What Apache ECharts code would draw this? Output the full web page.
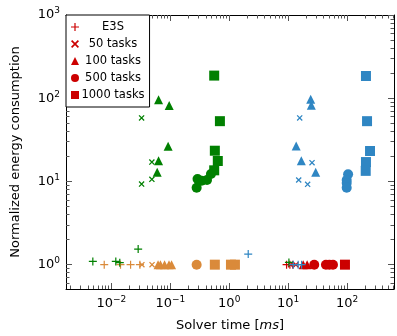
<!DOCTYPE html>
<html>
<head>
<meta charset="utf-8">
<script src="https://cdn.jsdelivr.net/npm/echarts@6/dist/echarts.min.js"></script>
<style>html,body{margin:0;padding:0;background:#fff;}#c{width:397px;height:336px;}</style>
</head>
<body>
<div id="c"></div>
<script>
// ---- data (x = solver time [ms], y = normalized energy consumption) ----
const legendNames = ['E3S', '50 tasks', '100 tasks', '500 tasks', '1000 tasks'];
const xTickValues = [0.01, 0.1, 1, 10, 100];
const yTickValues = [1, 10, 100, 1000];

// red (E3S)
const redPlus   = [[9.4, 1], [10.7, 1], [12, 1]];
const redCross  = [[11, 1], [13.5, 1]];
const redTri    = [[18, 1], [21, 1]];
const redCircle = [[27.7, 1], [43.8, 1], [50, 1], [57.6, 1]];
const redSquare = [[92, 1]];

// orange
const orangePlus   = [[0.00757, 1], [0.0143, 1], [0.0212, 1], [0.0305, 1]];
const orangeCross  = [[0.033, 1], [0.049, 1]];
const orangeTri    = [[0.062, 1], [0.068, 1], [0.08, 1], [0.095, 1], [0.105, 1]];
const orangeCircle = [[0.28, 1]];
const orangeSquare = [[0.57, 1], [1.07, 1], [1.25, 1]];

// green
const greenPlus   = [[0.00485, 1.095], [0.0119, 1.095], [0.0139, 1.056], [0.0285, 1.54], [10.3, 1.065]];
const greenCross  = [[0.0326, 58], [0.0487, 17.1], [0.0487, 10.6], [0.0326, 9.3]];
const greenTri    = [[0.0633, 96], [0.0958, 82], [0.092, 26.4], [0.0633, 17.7], [0.06, 12.9]];
const greenCircle = [[0.29, 10.7], [0.34, 10.2], [0.42, 10.4], [0.49, 12.3], [0.28, 8.4]];
const greenSquare = [[0.556, 187], [0.695, 53], [0.57, 23.4], [0.64, 17.6], [0.556, 13.6]];

// blue
const bluePlus   = [[2.1, 1.34], [12.2, 1], [14.8, 1], [16.9, 1]];
const blueCross  = [[15.7, 58], [25.4, 16.8], [15.1, 10.4], [21.4, 9.24]];
const blueTri    = [[24.1, 97], [24.7, 82.4], [13.7, 26.6], [16.7, 17.7], [29.3, 12.9]];
const blueCircle = [[104, 12.2], [98.5, 10.4], [98.5, 9.6], [98.5, 8.4]];
const blueSquare = [[209, 185], [218, 53], [245, 23.2], [209, 17.1], [207, 13.4]];

// ---- styling ----
const FONT = 'DejaVu Sans';
const C = { red: '#cc0000', orange: '#da8a3a', green: '#008000', blue: '#2f86c3' };
const PLUS = 'path://M4.25,0H5.75V4.25H10V5.75H5.75V10H4.25V5.75H0V4.25H4.25Z';
const CROSS = 'path://M0,1.5L1.5,0L10,8.5L8.5,10Z M8.5,0L10,1.5L1.5,10L0,8.5Z';
const shapes = [
  { sym: PLUS, size: 8 }, { sym: CROSS, size: 6 }, { sym: 'triangle', size: 9 },
  { sym: 'circle', size: 10 }, { sym: 'rect', size: 10 }
];
const groups = [
  { key: 'red', color: C.red, data: [redPlus, redCross, redTri, redCircle, redSquare], legend: true },
  { key: 'orange', color: C.orange, data: [orangePlus, orangeCross, orangeTri, orangeCircle, orangeSquare] },
  { key: 'green', color: C.green, data: [greenPlus, greenCross, greenTri, greenCircle, greenSquare] },
  { key: 'blue', color: C.blue, data: [bluePlus, blueCross, blueTri, blueCircle, blueSquare] }
];
const series = [];
groups.forEach(g => {
  g.data.forEach((d, i) => {
    series.push({
      type: 'scatter', name: g.legend ? legendNames[i] : g.key + ' ' + legendNames[i],
      xAxisIndex: 0, yAxisIndex: 0, symbol: shapes[i].sym, symbolSize: shapes[i].size,
      itemStyle: { color: g.color, opacity: 1 }, data: d, animation: false
    });
  });
});

function minorVals(lo, hi) {
  const out = [];
  for (let e = -4; e <= 3; e++) for (let k = 2; k <= 9; k++) {
    const v = k * Math.pow(10, e);
    if (v > lo && v < hi) out.push(+v.toPrecision(3));
  }
  return out;
}
const XMIN = 0.0017, XMAX = 625, YMIN = 0.51, YMAX = 1000;
const xMinor = minorVals(XMIN, XMAX);
const yMinor = minorVals(YMIN, YMAX);

function powLabel(v) {
  const k = Math.round(Math.log10(v));
  return '{b|10}{s|' + (k < 0 ? '\u2212' + (-k) : k) + '}';
}
const labelRich = {
  b: { fontFamily: FONT, fontSize: 13, color: '#000' },
  s: { fontFamily: FONT, fontSize: 9, color: '#000', padding: [0, 0, 8, 0] }
};
const TICKC = '#555555';

function mkAxis(kind, pos, major, opts) {
  const isX = kind === 'x';
  return Object.assign({
    type: 'log', min: isX ? XMIN : YMIN, max: isX ? XMAX : YMAX, position: pos,
    splitLine: { show: false },
    axisLine: { show: major, lineStyle: { color: '#000', width: 1 } },
    axisTick: {
      show: true, inside: true, length: major ? 6 : 3.5,
      lineStyle: { color: TICKC, width: 1 },
      customValues: major ? (isX ? xTickValues : yTickValues) : (isX ? xMinor : yMinor)
    },
    axisLabel: { show: false }
  }, opts || {});
}

const option = {
  backgroundColor: '#fff', animation: false,
  grid: { left: 66, right: 3, top: 15, bottom: 47, outerBoundsMode: 'none' },
  legend: {
    data: legendNames, orient: 'vertical', left: 66, top: 15,
    backgroundColor: '#fff', borderColor: '#000', borderWidth: 1,
    padding: [6, 5, 6, 5], itemGap: 5, itemWidth: 8, itemHeight: 8, selectedMode: false,
    formatter: n => '{c|' + n + '}',
    textStyle: { fontFamily: FONT, fontSize: 11, color: '#000',
      rich: { c: { fontFamily: FONT, fontSize: 11.5, width: 58, align: 'center', lineHeight: 12 } } }
  },
  xAxis: [
    mkAxis('x', 'bottom', true, {
      name: 'Solver time [{i|ms}]', nameLocation: 'middle', nameGap: 30,
      nameTextStyle: { fontFamily: FONT, fontSize: 13, color: '#000',
        rich: { i: { fontFamily: FONT, fontSize: 13, fontStyle: 'italic', color: '#000' } } },
      axisLabel: { show: true, margin: 6, customValues: xTickValues, formatter: powLabel, rich: labelRich }
    }),
    mkAxis('x', 'bottom', false),
    mkAxis('x', 'top', true),
    mkAxis('x', 'top', false)
  ],
  yAxis: [
    mkAxis('y', 'left', true, {
      name: 'Normalized energy consumption', nameLocation: 'middle', nameGap: 44,
      nameTextStyle: { fontFamily: FONT, fontSize: 13, color: '#000' },
      axisLabel: { show: true, margin: 6, customValues: yTickValues, formatter: powLabel, rich: labelRich }
    }),
    mkAxis('y', 'left', false),
    mkAxis('y', 'right', true),
    mkAxis('y', 'right', false)
  ],
  series: series
};
const chart = echarts.init(document.getElementById('c'));
chart.setOption(option);
</script>
</body>
</html>
